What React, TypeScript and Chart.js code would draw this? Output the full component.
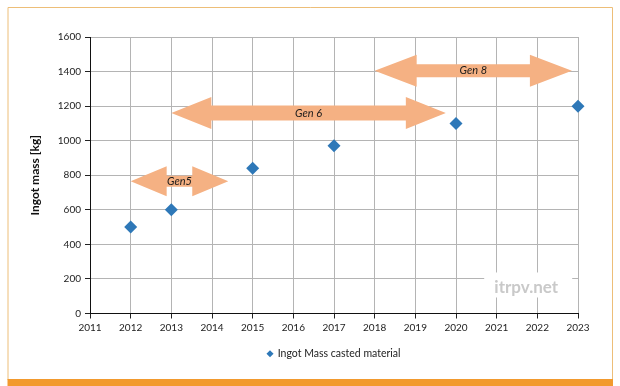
import React, { useEffect, useRef } from "react";
import { Chart, registerables } from "chart.js";

Chart.register(...registerables);

// ---- data ----
const years: number[] = [2012, 2013, 2015, 2017, 2020, 2023];
const ingotMass: number[] = [500, 600, 840, 970, 1100, 1200];
const seriesLabel = "Ingot Mass casted material";

const genLabels: string[] = ["Gen5", "Gen 6", "Gen 8"];
const genStart: number[] = [2012.0, 2013.0, 2018.0];
const genEnd: number[] = [2014.4, 2019.75, 2022.85];
const genLevel: number[] = [765, 1160, 1405];

const xMin = 2011;
const xMax = 2023;
const yMin = 0;
const yMax = 1600;
const yStep = 200;
const yTitle = "Ingot mass [kg]";
const watermark = "itrpv.net";
const watermarkAt = { x: 2021.8, y: 165 };

const FONT = "Lato, 'Open Sans', 'DejaVu Sans', sans-serif";

const decorPlugin = {
  id: "decor",
  beforeDraw(chart: any) {
    const ctx = chart.ctx;
    ctx.save();
    ctx.fillStyle = "#ffffff";
    ctx.fillRect(0, 0, chart.width, chart.height);
    // frame
    ctx.strokeStyle = "#EDBE78";
    ctx.lineWidth = 1;
    ctx.beginPath();
    ctx.moveTo(8, 380);
    ctx.lineTo(8, 7.5);
    ctx.lineTo(612.5, 7.5);
    ctx.lineTo(612.5, 380);
    ctx.stroke();
    // bottom orange bar
    ctx.fillStyle = "#F29A2E";
    ctx.fillRect(7.5, 379, 605.5, 7);
    ctx.restore();
  },
  beforeDatasetsDraw(chart: any) {
    const ctx = chart.ctx;
    const xs = chart.scales.x;
    const ys = chart.scales.y;
    ctx.save();
    // watermark box
    const wx = xs.getPixelForValue(watermarkAt.x);
    const wy = ys.getPixelForValue(watermarkAt.y);
    ctx.fillStyle = "#ffffff";
    ctx.fillRect(wx - 45, wy - 12.5, 88, 25);
    ctx.fillStyle = "#C9C9C9";
    ctx.font = "bold 17px " + FONT;
    ctx.textAlign = "center";
    ctx.textBaseline = "middle";
    ctx.fillText(watermark, wx - 3, wy + 3);

    // arrows
    const headLens = [36, 40, 42];
    const headHalf = [15, 16, 16];
    const shaftHalf = [5.5, 7.5, 6.5];
    for (let i = 0; i < genLabels.length; i++) {
      const x1 = xs.getPixelForValue(genStart[i]);
      const x2 = xs.getPixelForValue(genEnd[i]);
      const y = ys.getPixelForValue(genLevel[i]);
      const hl = headLens[i];
      const hh = headHalf[i];
      const sh = shaftHalf[i];
      ctx.fillStyle = "#F5B183";
      ctx.beginPath();
      ctx.moveTo(x1, y);
      ctx.lineTo(x1 + hl, y - hh);
      ctx.lineTo(x1 + hl, y - sh);
      ctx.lineTo(x2 - hl, y - sh);
      ctx.lineTo(x2 - hl, y - hh);
      ctx.lineTo(x2, y);
      ctx.lineTo(x2 - hl, y + hh);
      ctx.lineTo(x2 - hl, y + sh);
      ctx.lineTo(x1 + hl, y + sh);
      ctx.lineTo(x1 + hl, y + hh);
      ctx.closePath();
      ctx.fill();
      ctx.fillStyle = "#1a1a1a";
      ctx.font = "italic 11px " + FONT;
      ctx.textAlign = "center";
      ctx.textBaseline = "middle";
      ctx.fillText(genLabels[i], (x1 + x2) / 2, y);
    }
    ctx.restore();
  },
};

export default function App() {
  const ref = useRef<HTMLCanvasElement | null>(null);
  useEffect(() => {
    if (!ref.current) return;
    const chart = new Chart(ref.current, {
      type: "scatter",
      data: {
        datasets: [
          {
            label: seriesLabel,
            data: years.map((x, i) => ({ x, y: ingotMass[i] })),
            backgroundColor: "#2E78B8",
            borderColor: "#2E78B8",
            pointStyle: "rectRot",
            pointRadius: 6.5,
            pointHoverRadius: 6.5,
            borderWidth: 0,
            clip: false,
          } as any,
        ],
      },
      options: {
        animation: false,
        responsive: false,
        devicePixelRatio: 1,
        layout: { padding: { left: 0, top: 37, right: 42, bottom: 17 } },
        plugins: {
          tooltip: { enabled: false },
          legend: {
            position: "bottom",
            fullSize: false,
            labels: {
              usePointStyle: true,
              pointStyle: "rectRot",
              boxHeight: 5,
              boxWidth: 5,
              padding: 4,
              color: "#222",
              font: { family: FONT, size: 10.5 },
            },
          },
        },
        scales: {
          x: {
            type: "linear",
            min: xMin,
            max: xMax,
            ticks: {
              stepSize: 1,
              color: "#222",
              padding: 3,
              font: { family: FONT, size: 10 },
              callback: (v: any) => String(v),
            },
            grid: { color: "#B4B4B4", tickColor: "#222", tickLength: 5, lineWidth: 1 },
            border: { color: "#111", width: 1 },
            afterFit: (s: any) => {
              s.height = 31;
            },
          },
          y: {
            type: "linear",
            min: yMin,
            max: yMax,
            ticks: {
              stepSize: yStep,
              color: "#222",
              padding: 4,
              font: { family: FONT, size: 10 },
              callback: (v: any) => String(v),
            },
            grid: { color: "#B4B4B4", tickColor: "#222", tickLength: 5, lineWidth: 1 },
            border: { color: "#111", width: 1 },
            title: {
              display: true,
              text: yTitle,
              color: "#111",
              font: { family: FONT, size: 12, weight: "bold" },
              padding: { top: 28, bottom: 0 },
            },
            afterFit: (s: any) => {
              s.width = 90;
            },
          },
        },
      },
      plugins: [decorPlugin],
    });
    return () => chart.destroy();
  }, []);
  return (
    <div style={{ position: "absolute", left: 0, top: 0, width: 620, height: 386 }}>
      <canvas ref={ref} width={620} height={386} style={{ width: 620, height: 386 }} />
    </div>
  );
}
